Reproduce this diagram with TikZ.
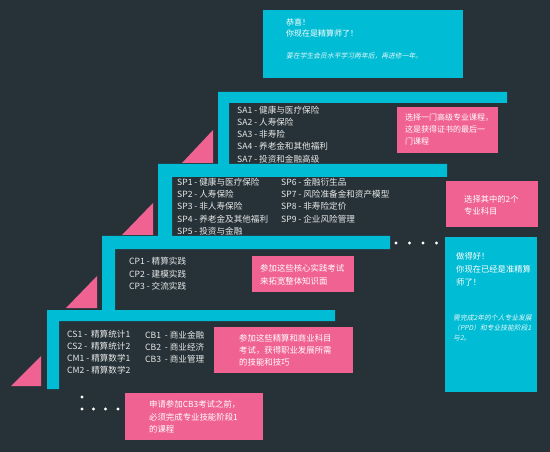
\documentclass[tikz,border=0pt]{standalone}
\usepackage{fontspec}
\newfontfamily\cjk{Noto Sans CJK SC}
\newfontfamily\cjkit[FakeSlant=0.2]{Noto Sans CJK SC}
\definecolor{bg}{HTML}{263238}
\definecolor{cy}{HTML}{00BCD4}
\definecolor{pk}{HTML}{F06292}
\definecolor{lt}{HTML}{E8E8E8}
\tikzset{
  txt/.style={font=\cjk\fontsize{8.6}{12.3}\selectfont, text=lt, align=left, anchor=north west, inner sep=0pt},
  ptxt/.style={font=\cjk\fontsize{8.3}{12.2}\selectfont, text=white, align=left, anchor=north west, inner sep=0pt},
  ctxt/.style={font=\cjk\fontsize{8}{11.5}\selectfont, text=white, align=left, anchor=north west, inner sep=0pt},
  itxt/.style={font=\cjkit\fontsize{6.8}{10}\selectfont, text=white!90!cy, align=left, anchor=north west, inner sep=0pt},
  pbox/.style={fill=pk, draw=none, anchor=north west, inner sep=0pt},
  cbox/.style={fill=cy, draw=none, anchor=north west, inner sep=0pt},
  bar/.style={fill=cy, draw=none},
  tri/.style={fill=pk, draw=none},
  dot/.style={circle, fill=white, inner sep=0pt, minimum size=3.4pt},
}
\begin{document}
\begin{tikzpicture}[x=1pt,y=-1pt]
\fill[bg] (0,0) rectangle (550,452);
\useasboundingbox (0,0) rectangle (550,452);

% staircase bars
\fill[bar] (218,92) -- (507,92) -- (507,103) -- (229,103) -- (229,164) -- (218,164) -- cycle;
\fill[bar] (158,164) -- (447,164) -- (447,177) -- (172,177) -- (172,236) -- (158,236) -- cycle;
\fill[bar] (102,236) -- (390,236) -- (390,249) -- (115,249) -- (115,310) -- (102,310) -- cycle;
\fill[bar] (47,310) -- (335,310) -- (335,321) -- (59,321) -- (59,389) -- (47,389) -- cycle;

% triangles
\fill[tri] (182,163) -- (213,163) -- (213,130) -- cycle;
\fill[tri] (122,235) -- (153,235) -- (153,203) -- cycle;
\fill[tri] (66,308) -- (97,308) -- (97,276) -- cycle;
\fill[tri] (11,386) -- (41,386) -- (41,356) -- cycle;

% top cyan box
\node[cbox, minimum width=200pt, minimum height=68pt] (top) at (263,10) {};
\node[ctxt] (toptxt) at (286,18.5) {恭喜！\\你现在是精算师了！};
\node[itxt] (topit) at (286,53) {要在学生会员水平学习两年后，再进修一年。};

% SA
\node[txt] (sa) at (237,105.5) {SA1 - 健康与医疗保险\\SA2 - 人寿保险\\SA3 - 非寿险\\SA4 - 养老金和其他福利\\SA7 - 投资和金融高级};
\node[pbox, minimum width=101pt, minimum height=46pt] (pa) at (397,107) {};
\node[ptxt, font=\cjk\fontsize{8}{12}\selectfont] (pat) at (405,113.5) {选择一门高级专业课程，\\这是获得证书的最后一\\门课程};

% SP
\node[txt, font=\cjk\fontsize{8.6}{12.4}\selectfont] (sp1) at (177,177.5) {SP1 - 健康与医疗保险\\SP2 - 人寿保险\\SP3 - 非人寿保险\\SP4 - 养老金及其他福利\\SP5 - 投资与金融};
\node[txt, font=\cjk\fontsize{8.6}{12.4}\selectfont] (sp2) at (281,177.5) {SP6 - 金融衍生品\\SP7 - 风险准备金和资产模型\\SP8 - 非寿险定价\\SP9 - 企业风险管理};
\node[pbox, minimum width=92pt, minimum height=46pt] (pp) at (446,181) {};
\node[ptxt] (ppt) at (464,195.5) {选择其中的2个\\专业科目};

% CP
\node[txt] (cp) at (129,257.5) {CP1 - 精算实践\\CP2 - 建模实践\\CP3 - 交流实践};
\node[pbox, minimum width=102pt, minimum height=36pt] (pc) at (252,256) {};
\node[ptxt, font=\cjk\fontsize{8.4}{12.8}\selectfont] (pct) at (260,264.5) {参加这些核心实践考试\\来拓宽整体知识面};

% dots after CP bar
\node[dot] (d1) at (396,243) {};
\node[dot] (d2) at (409.5,243) {};
\node[dot] (d3) at (423,243) {};
\node[dot] (d4) at (436.5,243) {};

% qualified box
\node[cbox, minimum width=92pt, minimum height=155pt] (mid) at (445,237) {};
\node[ctxt, font=\cjk\fontsize{8.3}{13}\selectfont] (midtxt) at (456,252.5) {做得好！\\你现在已经是准精算\\师了！};
\node[itxt] (midit) at (453,315) {需完成2年的个人专业发展\\（PPD）和专业技能阶段1\\与2。};

% CS / CB
\node[txt, font=\cjk\fontsize{8.6}{12}\selectfont] (cs) at (67,330.5) {CS1 -~~精算统计1\\CS2 -~~精算统计2\\CM1 - 精算数学1\\CM2 - 精算数学2};
\node[txt, font=\cjk\fontsize{8.6}{12}\selectfont] (cb) at (145,330.5) {CB1~ - 商业金融\\CB2~ - 商业经济\\CB3~ - 商业管理};
\node[pbox, minimum width=139pt, minimum height=46pt] (ps) at (214,327) {};
\node[ptxt, font=\cjk\fontsize{8.4}{12}\selectfont] (pst) at (239,334.5) {参加这些精算和商业科目\\考试，获得职业发展所需\\的技能和技巧};

% bottom dots and box
\node[dot] (e0) at (82,397) {};
\node[dot] (e1) at (82,409) {};
\node[dot] (e2) at (93.5,409) {};
\node[dot] (e3) at (105.5,409) {};
\node[dot] (e4) at (118,409) {};
\node[pbox, minimum width=138pt, minimum height=47pt] (pb) at (125,393) {};
\node[ptxt, font=\cjk\fontsize{8.4}{12.5}\selectfont] (pbt) at (149,400.5) {申请参加CB3考试之前，\\必须完成专业技能阶段1\\的课程};
\end{tikzpicture}
\end{document}
